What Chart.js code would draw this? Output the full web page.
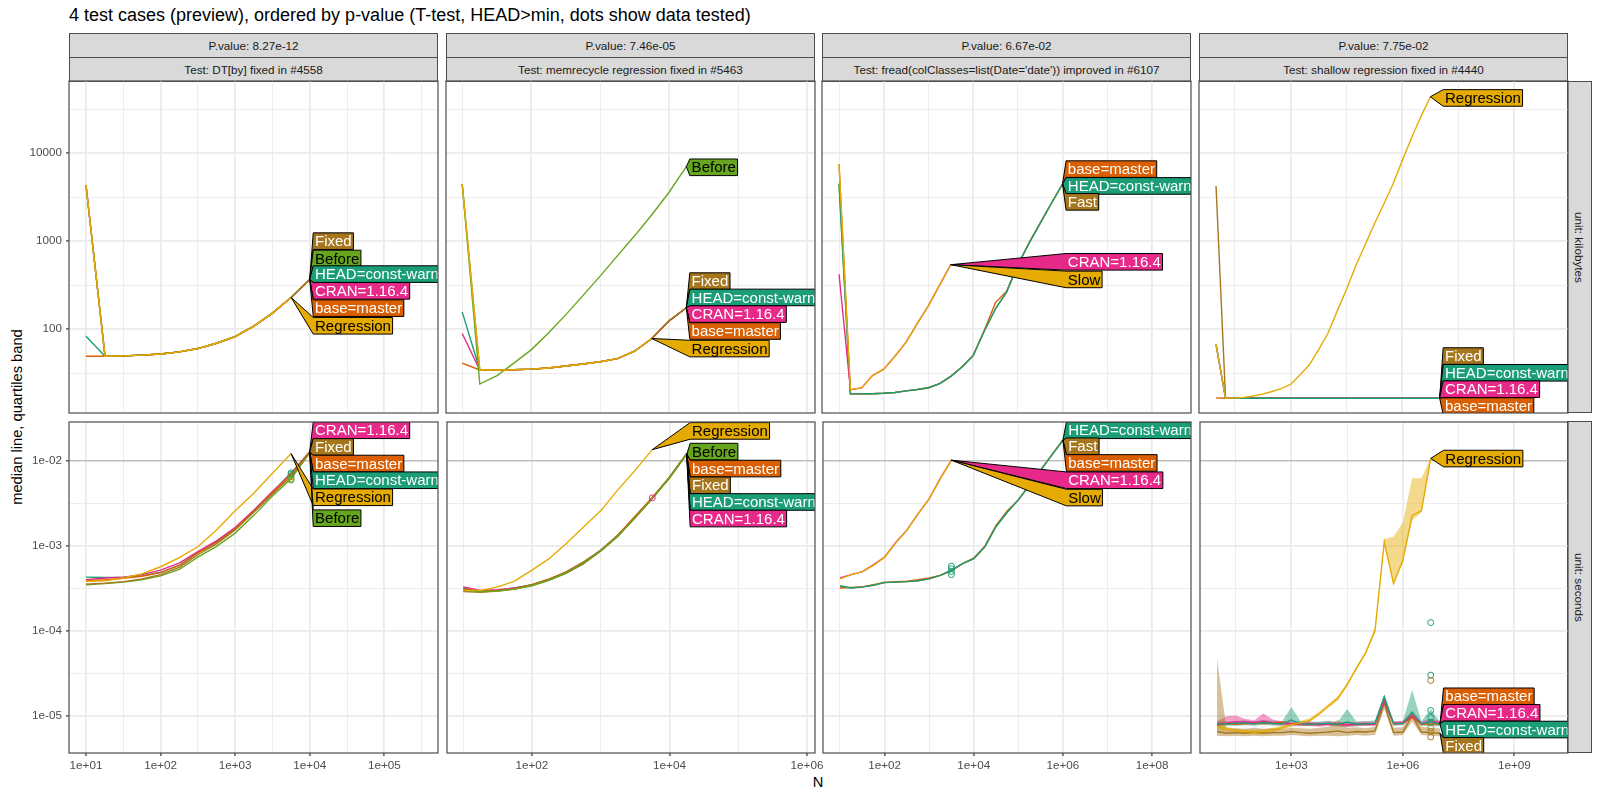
<!DOCTYPE html>
<html>
<head>
<meta charset="utf-8">
<script src="https://cdn.jsdelivr.net/npm/chart.js@4.4.1/dist/chart.umd.min.js"></script>
<style>
  body { margin: 0; background: #fff; }
  #wrap { position: relative; width: 1600px; height: 800px; overflow: hidden; font-family: "Liberation Sans", Arial, sans-serif; }
  #wrap canvas { position: absolute; }
  .strip { position: absolute; box-sizing: border-box; background: #d9d9d9; border: 1px solid #4d4d4d; color: #1a1a1a;
           font-size: 11.7px; display: flex; align-items: center; justify-content: center; white-space: nowrap; overflow: hidden; }
  .vstrip { writing-mode: vertical-rl; }
  #title { position: absolute; left: 69px; top: 5px; font-size: 18px; line-height: 20px; white-space: nowrap; }
  #ylab { position: absolute; left: 17px; top: 417px; transform: translate(-50%, -50%) rotate(-90deg); font-size: 14.7px; white-space: nowrap; }
  #xlab { position: absolute; left: 818px; top: 782px; transform: translate(-50%, -50%); font-size: 14.7px; }
</style>
</head>
<body>
<div id="wrap">
  <div id="title">4 test cases (preview), ordered by p-value (T-test, HEAD&gt;min, dots show data tested)</div>
  <div id="ylab">median line, quartiles band</div>
  <div id="xlab">N</div>
</div>
<script>
const wrap = document.querySelector('#wrap')

// facet text
const pValues = ['P.value: 8.27e-12', 'P.value: 7.46e-05', 'P.value: 6.67e-02', 'P.value: 7.75e-02']
const testTitles = ['Test: DT[by] fixed in #4558', 'Test: memrecycle regression fixed in #5463',
  "Test: fread(colClasses=list(Date='date')) improved in #6107", 'Test: shallow regression fixed in #4440']
const unitLabels = ['unit: kilobytes', 'unit: seconds']

// axes
const xLogLimits = [[0.772, 5.72], [0.765, 6.116], [0.619, 8.873], [0.543, 10.443]]
const yLogLimits = [[1.045, 4.822], [-5.441, -1.537]]
const xMajor = [[10, 100, 1000, 10000, 100000], [100, 10000, 1000000], [100, 10000, 1000000, 100000000], [1000, 1000000, 1000000000]]
const xMinor = [[10 ** 1.5, 10 ** 2.5, 10 ** 3.5, 10 ** 4.5, 10 ** 5.5], [10, 1000, 100000], [10, 1000, 100000, 10000000], [10 ** 1.5, 10 ** 4.5, 10 ** 7.5]]
const yMajor = [[100, 1000, 10000], [1e-5, 1e-4, 1e-3, 1e-2]]
const yMinor = [[10 ** 1.5, 10 ** 2.5, 10 ** 3.5, 10 ** 4.5], [10 ** -4.5, 10 ** -3.5, 10 ** -2.5]]
const timeLimit = 0.01

// N tested per test case
const nDTby = [10, 18, 32, 56, 100, 178, 316, 562, 1000, 1778, 3162, 5623, 10000]
const nMemrecycle = [10, 18, 32, 56, 100, 178, 316, 562, 1000, 1778, 3162, 5623, 10000, 17783]
const nFread = [10, 18, 32, 56, 100, 178, 316, 562, 1000, 1778, 3162, 5623, 10000, 17783, 31623, 56234, 100000, 177828, 316228, 562341, 1000000]
const nShallow = [10, 18, 32, 56, 100, 178, 316, 562, 1000, 1778, 3162, 5623, 10000, 17783, 31623, 56234, 100000, 177828, 316228, 562341, 1000000, 1778279, 3162278, 5623413, 10000000]
const testedN = [5623, 5623, 3162, 5623413]

// DT[by]
const dtbySeries = ['HEAD=const-warn', 'CRAN=1.16.4', 'base=master', 'Before', 'Fixed', 'Regression']
const dtbyKb = [
  [83, 49, 49.5, 50.5, 52, 55, 60, 69, 82, 108, 152, 229, 367],
  [4330, 49, 49.5, 50.5, 52, 55, 60, 69, 82, 108, 152, 229, 367],
  [49, 49, 49.5, 50.5, 52, 55, 60, 69, 82, 108, 152, 229, 367],
  [4330, 49, 49.5, 50.5, 52, 55, 60, 69, 82, 108, 152, 229, 367],
  [4330, 49, 49.5, 50.5, 52, 55, 60, 69, 82, 108, 152, 229, 367],
  [4330, 49, 49.5, 50.5, 52, 55, 60, 69, 82, 108, 152, 229, null]
]
const dtbySec = [
  [4.3e-4, 4.25e-4, 4.3e-4, 4.45e-4, 4.9e-4, 5.9e-4, 8.4e-4, 1.12e-3, 1.62e-3, 2.6e-3, 4.3e-3, 7.3e-3, 1.29e-2],
  [4.0e-4, 4.2e-4, 4.3e-4, 4.6e-4, 5.2e-4, 6.3e-4, 8.6e-4, 1.15e-3, 1.65e-3, 2.65e-3, 4.4e-3, 7.1e-3, 1.3e-2],
  [3.9e-4, 4.0e-4, 4.15e-4, 4.4e-4, 4.85e-4, 5.9e-4, 8.3e-4, 1.1e-3, 1.6e-3, 2.55e-3, 4.25e-3, 7.0e-3, 1.29e-2],
  [3.5e-4, 3.6e-4, 3.75e-4, 4.0e-4, 4.45e-4, 5.3e-4, 7.4e-4, 9.9e-4, 1.42e-3, 2.3e-3, 3.9e-3, 6.2e-3, 1.26e-2],
  [3.55e-4, 3.65e-4, 3.8e-4, 4.1e-4, 4.6e-4, 5.6e-4, 7.9e-4, 1.06e-3, 1.55e-3, 2.5e-3, 4.1e-3, 6.6e-3, 1.28e-2],
  [3.85e-4, 3.9e-4, 4.2e-4, 4.7e-4, 5.7e-4, 7.3e-4, 9.8e-4, 1.55e-3, 2.6e-3, 4.2e-3, 7.2e-3, 1.23e-2, null]
]
const dtbyKbLabels = ['Fixed', 'Before', 'HEAD=const-warn', 'CRAN=1.16.4', 'base=master', 'Regression']
const dtbyKbLabelY = [1000, 635, 422, 272, 173, 109]
const dtbySecLabels = ['CRAN=1.16.4', 'Fixed', 'base=master', 'HEAD=const-warn', 'Regression', 'Before']
const dtbySecLabelY = [0.0232, 0.01475, 0.0094, 0.00597, 0.00376, 0.00213]
const dtbyDotSeries = ['HEAD=const-warn', 'HEAD=const-warn', 'Fixed', 'Before', 'Before']
const dtbyDotY = [7.3e-3, 7.0e-3, 6.6e-3, 6.2e-3, 6.0e-3]

// memrecycle
const memSeries = ['HEAD=const-warn', 'CRAN=1.16.4', 'base=master', 'Fixed', 'Before', 'Regression']
const memKb = [
  [157, 34.2, 34.2, 34.4, 35, 36, 38, 40, 42.5, 46, 56, 78, 124, 175],
  [89, 34.2, 34.2, 34.4, 35, 36, 38, 40, 42.5, 46, 56, 78, 124, 175],
  [41, 34.2, 34.2, 34.4, 35, 36, 38, 40, 42.5, 46, 56, 78, 124, 175],
  [4470, 34.2, 34.2, 34.4, 35, 36, 38, 40, 42.5, 46, 56, 78, 124, 175],
  [4470, 23.7, 29.5, 41, 58, 90, 145, 240, 400, 680, 1150, 2000, 3600, 7050],
  [4470, 34.2, 34.2, 34.4, 35, 36, 38, 40, 42.5, 46, 56, 78, null, null]
]
const memSec = [
  [3.2e-4, 2.9e-4, 3.0e-4, 3.2e-4, 3.5e-4, 4.05e-4, 4.85e-4, 6.3e-4, 8.9e-4, 1.34e-3, 2.2e-3, 3.7e-3, 6.5e-3, 1.23e-2],
  [3.3e-4, 3.0e-4, 3.05e-4, 3.2e-4, 3.45e-4, 4.0e-4, 4.8e-4, 6.2e-4, 8.8e-4, 1.33e-3, 2.2e-3, 3.7e-3, 6.4e-3, 1.22e-2],
  [3.1e-4, 2.95e-4, 3.0e-4, 3.15e-4, 3.5e-4, 4.1e-4, 4.9e-4, 6.3e-4, 8.9e-4, 1.35e-3, 2.25e-3, 3.75e-3, 6.5e-3, 1.23e-2],
  [2.9e-4, 2.85e-4, 2.95e-4, 3.1e-4, 3.45e-4, 4.05e-4, 5.0e-4, 6.5e-4, 8.9e-4, 1.32e-3, 2.15e-3, 3.65e-3, 6.4e-3, 1.22e-2],
  [3.0e-4, 2.9e-4, 2.95e-4, 3.1e-4, 3.4e-4, 3.95e-4, 4.8e-4, 6.2e-4, 8.7e-4, 1.3e-3, 2.15e-3, 3.6e-3, 6.3e-3, 1.2e-2],
  [3.0e-4, 3.0e-4, 3.3e-4, 3.85e-4, 5.2e-4, 7.1e-4, 1.07e-3, 1.68e-3, 2.6e-3, 4.6e-3, 7.8e-3, 1.37e-2, null, null]
]
const memKbLabels = ['Before', 'Fixed', 'HEAD=const-warn', 'CRAN=1.16.4', 'base=master', 'Regression']
const memKbLabelY = [6920, 351, 229, 148, 95, 60]
const memSecLabels = ['Regression', 'Before', 'base=master', 'Fixed', 'HEAD=const-warn', 'CRAN=1.16.4']
const memSecLabelY = [0.0228, 0.013, 0.0082, 0.00521, 0.00331, 0.00211]
const memDotSeries = ['CRAN=1.16.4']
const memDotY = [3.7e-3]

// fread
const freadSeries = ['Fast', 'base=master', 'HEAD=const-warn', 'CRAN=1.16.4', 'Slow']
const freadKb = [
  [4500, 18.3, 18.3, 18.4, 18.6, 19, 19.8, 20.5, 21.5, 24, 29, 37, 50, 95, 170, 265, 535, 950, 1600, 2700, 4470],
  [7500, 18.3, 18.3, 18.4, 18.6, 19, 19.8, 20.5, 21.5, 24, 29, 37, 50, 97, 200, 270, 535, 950, 1600, 2700, 4470],
  [4500, 18.3, 18.3, 18.4, 18.6, 19, 19.8, 20.5, 21.5, 24, 29, 37, 50, 95, 170, 265, 535, 950, 1600, 2700, 4470],
  [420, 20.4, 21.4, 29.5, 35, 49, 71, 115, 185, 316, 540],
  [7500, 20.4, 21.4, 29.5, 35, 49, 71, 115, 185, 316, 540]
]
const freadSec = [
  [3.3e-4, 3.2e-4, 3.3e-4, 3.45e-4, 3.75e-4, 3.75e-4, 3.8e-4, 3.9e-4, 4.1e-4, 4.5e-4, 5.2e-4, 6.2e-4, 7.1e-4, 9.8e-4, 1.7e-3, 2.5e-3, 3.5e-3, 5.2e-3, 7.8e-3, 1.18e-2, 1.77e-2],
  [3.2e-4, 3.25e-4, 3.3e-4, 3.5e-4, 3.7e-4, 3.8e-4, 3.85e-4, 4.0e-4, 4.2e-4, 4.5e-4, 5.1e-4, 6.2e-4, 7.2e-4, 1.0e-3, 1.75e-3, 2.6e-3, 3.5e-3, 5.3e-3, 7.9e-3, 1.19e-2, 1.78e-2],
  [3.4e-4, 3.2e-4, 3.3e-4, 3.45e-4, 3.7e-4, 3.75e-4, 3.8e-4, 3.9e-4, 4.1e-4, 4.5e-4, 5.2e-4, 6.2e-4, 7.1e-4, 9.8e-4, 1.7e-3, 2.5e-3, 3.5e-3, 5.2e-3, 7.8e-3, 1.18e-2, 1.77e-2],
  [4.2e-4, 4.6e-4, 5.0e-4, 6.0e-4, 7.4e-4, 1.1e-3, 1.54e-3, 2.4e-3, 3.6e-3, 6.3e-3, 1.03e-2],
  [4.1e-4, 4.6e-4, 5.0e-4, 5.9e-4, 7.4e-4, 1.09e-3, 1.53e-3, 2.4e-3, 3.6e-3, 6.2e-3, 1.03e-2]
]
const freadKbLabels = ['base=master', 'HEAD=const-warn', 'Fast', 'CRAN=1.16.4', 'Slow']
const freadKbLabelY = [6600, 4250, 2800, 582, 367]
const freadSecLabels = ['HEAD=const-warn', 'Fast', 'base=master', 'CRAN=1.16.4', 'Slow']
const freadSecLabelY = [0.0232, 0.01503, 0.00955, 0.00597, 0.00373]
const freadDotSeries = ['HEAD=const-warn', 'HEAD=const-warn', 'HEAD=const-warn', 'HEAD=const-warn']
const freadDotY = [5.8e-4, 5.4e-4, 5.0e-4, 4.6e-4]

// shallow
const shallowSeries = ['Fixed', 'base=master', 'CRAN=1.16.4', 'HEAD=const-warn', 'Regression']
const shallowKb = [
  [4240, 16.3, 16.3, 16.3, 16.3, 16.3, 16.3, 16.3, 16.3, 16.3, 16.3, 16.3, 16.3, 16.3, 16.3, 16.3, 16.3, 16.3, 16.3, 16.3, 16.3, 16.3, 16.3, 16.3, 16.3],
  [16.5, 16.3, 16.3, 16.3, 16.3, 16.3, 16.3, 16.3, 16.3, 16.3, 16.3, 16.3, 16.3, 16.3, 16.3, 16.3, 16.3, 16.3, 16.3, 16.3, 16.3, 16.3, 16.3, 16.3, 16.3],
  [67, 16.3, 16.3, 16.3, 16.3, 16.3, 16.3, 16.3, 16.3, 16.3, 16.3, 16.3, 16.3, 16.3, 16.3, 16.3, 16.3, 16.3, 16.3, 16.3, 16.3, 16.3, 16.3, 16.3, 16.3],
  [67, 16.3, 16.3, 16.3, 16.3, 16.3, 16.3, 16.3, 16.3, 16.3, 16.3, 16.3, 16.3, 16.3, 16.3, 16.3, 16.3, 16.3, 16.3, 16.3, 16.3, 16.3, 16.3, 16.3, 16.3],
  [67, 16.3, 16.4, 16.7, 17.3, 18.2, 19.5, 21, 23.4, 30, 39, 58, 89, 160, 282, 525, 910, 1580, 2630, 4500, 8300, 15100, 26300, 43900]
]
const shallowSec = [
  [6.5e-6, 6.2e-6, 6.3e-6, 6.2e-6, 6.4e-6, 6.2e-6, 6.3e-6, 6.3e-6, 6.5e-6, 6.3e-6, 6.2e-6, 6.3e-6, 6.4e-6, 6.6e-6, 6.3e-6, 6.5e-6, 6.4e-6, 6.6e-6, 1.4e-5, 6.3e-6, 6.4e-6, 1.0e-5, 6.4e-6, 6.3e-6, 6.2e-6],
  [7.8e-6, 8.0e-6, 7.9e-6, 8.0e-6, 8.1e-6, 8.0e-6, 8.2e-6, 8.4e-6, 8.0e-6, 7.9e-6, 7.8e-6, 7.9e-6, 8.0e-6, 7.9e-6, 7.8e-6, 7.9e-6, 8.0e-6, 7.9e-6, 1.55e-5, 8.0e-6, 8.1e-6, 9.5e-6, 7.9e-6, 8.0e-6, 7.9e-6],
  [8.0e-6, 8.2e-6, 8.5e-6, 8.4e-6, 8.3e-6, 8.6e-6, 8.2e-6, 8.1e-6, 8.0e-6, 7.9e-6, 8.0e-6, 7.8e-6, 8.0e-6, 7.9e-6, 7.8e-6, 7.9e-6, 8.0e-6, 7.9e-6, 1.5e-5, 8.1e-6, 8.2e-6, 1.0e-5, 8.0e-6, 8.6e-6, 8.2e-6],
  [8.0e-6, 8.0e-6, 8.1e-6, 8.2e-6, 8.0e-6, 8.3e-6, 8.1e-6, 8.0e-6, 8.9e-6, 8.0e-6, 7.9e-6, 8.0e-6, 8.1e-6, 7.9e-6, 8.4e-6, 7.9e-6, 8.0e-6, 8.1e-6, 1.66e-5, 8.0e-6, 8.1e-6, 1.1e-5, 8.0e-6, 8.5e-6, 7.9e-6],
  [7.4e-6, 7.0e-6, 6.7e-6, 6.5e-6, 6.4e-6, 6.5e-6, 6.8e-6, 7.2e-6, 7.8e-6, 8.2e-6, 8.8e-6, 1.05e-5, 1.3e-5, 1.6e-5, 2.3e-5, 3.6e-5, 5.5e-5, 1.0e-4, 1.12e-3, 3.6e-4, 6.8e-4, 2.3e-3, 2.6e-3, 1.08e-2]
]
const shallowBandSeries = ['Fixed', 'CRAN=1.16.4', 'HEAD=const-warn', 'Regression']
const shallowBandLo = [
  [5.8e-6, 5.7e-6, 5.8e-6, 5.7e-6, 5.8e-6, 5.7e-6, 5.8e-6, 5.8e-6, 5.9e-6, 5.8e-6, 5.7e-6, 5.8e-6, 5.8e-6, 5.7e-6, 5.8e-6, 5.9e-6, 5.8e-6, 5.9e-6, 1.2e-5, 5.8e-6, 5.9e-6, 8.5e-6, 5.9e-6, 5.8e-6, 5.7e-6],
  [7.6e-6, 7.8e-6, 8.0e-6, 7.9e-6, 7.8e-6, 8.1e-6, 7.8e-6, 7.7e-6, 7.6e-6, 7.5e-6, 7.6e-6, 7.4e-6, 7.6e-6, 7.5e-6, 7.4e-6, 7.5e-6, 7.6e-6, 7.5e-6, 1.4e-5, 7.7e-6, 7.8e-6, 9.4e-6, 7.6e-6, 8.0e-6, 7.8e-6],
  [7.5e-6, 7.6e-6, 7.6e-6, 7.7e-6, 7.6e-6, 7.8e-6, 7.6e-6, 7.6e-6, 7.9e-6, 7.6e-6, 7.5e-6, 7.6e-6, 7.7e-6, 7.5e-6, 7.4e-6, 7.5e-6, 7.6e-6, 7.7e-6, 1.5e-5, 7.6e-6, 7.7e-6, 9.5e-6, 7.6e-6, 7.5e-6, 7.5e-6],
  [6.8e-6, 6.5e-6, 6.3e-6, 6.1e-6, 6.0e-6, 6.1e-6, 6.4e-6, 6.8e-6, 7.4e-6, 7.8e-6, 8.4e-6, 1.0e-5, 1.25e-5, 1.5e-5, 2.2e-5, 3.5e-5, 5.3e-5, 9.5e-5, 1.05e-3, 3.5e-4, 6.5e-4, 2.0e-3, 2.5e-3, 1.05e-2]
]
const shallowBandHi = [
  [4.7e-5, 7.0e-6, 7.1e-6, 7.0e-6, 7.2e-6, 7.0e-6, 7.1e-6, 7.0e-6, 7.2e-6, 7.1e-6, 7.0e-6, 7.2e-6, 7.4e-6, 9.0e-6, 7.2e-6, 7.3e-6, 7.1e-6, 7.4e-6, 1.6e-5, 7.2e-6, 7.3e-6, 1.1e-5, 7.4e-6, 7.2e-6, 7.1e-6],
  [8.6e-6, 9.8e-6, 1.0e-5, 9.2e-6, 8.8e-6, 1.06e-5, 9.0e-6, 8.6e-6, 8.5e-6, 8.4e-6, 8.5e-6, 8.3e-6, 8.5e-6, 8.4e-6, 8.3e-6, 8.4e-6, 8.5e-6, 8.4e-6, 1.6e-5, 8.6e-6, 8.7e-6, 1.1e-5, 8.5e-6, 9.2e-6, 8.7e-6],
  [8.6e-6, 8.5e-6, 8.6e-6, 8.8e-6, 8.5e-6, 8.9e-6, 8.7e-6, 8.5e-6, 1.26e-5, 8.6e-6, 8.4e-6, 8.5e-6, 8.7e-6, 8.4e-6, 1.2e-5, 8.5e-6, 8.6e-6, 8.8e-6, 1.8e-5, 8.5e-6, 8.6e-6, 2.0e-5, 8.6e-6, 1.2e-5, 8.4e-6],
  [7.8e-6, 7.4e-6, 7.0e-6, 6.9e-6, 6.8e-6, 6.9e-6, 7.2e-6, 7.7e-6, 8.2e-6, 8.7e-6, 9.4e-6, 1.12e-5, 1.38e-5, 1.7e-5, 2.45e-5, 3.8e-5, 5.8e-5, 1.1e-4, 1.2e-3, 1.3e-3, 1.9e-3, 6.3e-3, 6.3e-3, 1.1e-2]
]
const shallowKbLabels = ['Regression', 'Fixed', 'HEAD=const-warn', 'CRAN=1.16.4', 'base=master']
const shallowKbLabelY = [42600, 49.3, 31.8, 20.7, 13.3]
const shallowSecLabels = ['Regression', 'base=master', 'CRAN=1.16.4', 'HEAD=const-warn', 'Fixed']
const shallowSecLabelY = [0.01076, 1.69e-5, 1.08e-5, 6.85e-6, 4.4e-6]
const shallowDotSeries = ['HEAD=const-warn', 'HEAD=const-warn', 'Fixed', 'HEAD=const-warn', 'HEAD=const-warn', 'HEAD=const-warn', 'Fixed', 'Fixed', 'Fixed']
const shallowDotY = [1.25e-4, 3.0e-5, 2.6e-5, 1.15e-5, 9.5e-6, 8.3e-6, 7.2e-6, 6.5e-6, 5.6e-6]

// styling
const seriesColour = {
  'HEAD=const-warn': '#1B9E77', 'CRAN=1.16.4': '#E7298A', 'base=master': '#D95F02',
  'Fixed': '#A6761D', 'Fast': '#A6761D', 'Before': '#66A61E', 'Regression': '#E6AB02', 'Slow': '#E6AB02'
}
const blackText = ['Before', 'Regression', 'Slow']
const panelLeft = [69, 446, 822, 1199]
const panelWidth = 369
const panelTop = [81, 421]
const panelHeight = 332

Chart.defaults.font.family = '"Liberation Sans", Arial, sans-serif'

function alpha(hex, a) {
  const n = parseInt(hex.slice(1), 16)
  return 'rgba(' + (n >> 16) + ',' + ((n >> 8) & 255) + ',' + (n & 255) + ',' + a + ')'
}

function expLabel(v) {
  const e = Math.round(Math.log10(v))
  const d = Math.abs(e) < 10 ? '0' + Math.abs(e) : String(Math.abs(e))
  return '1e' + (e < 0 ? '-' : '+') + d
}

function points(n, vals) {
  const pts = []
  vals.forEach((v, i) => { if (v !== null) pts.push({ x: n[i], y: v }) })
  return pts
}

// strips
function addStrip(text, left, top, w, h, vertical) {
  const d = document.createElement('div')
  d.className = 'strip' + (vertical ? ' vstrip' : '')
  d.style.left = left + 'px'; d.style.top = top + 'px'
  d.style.width = w + 'px'; d.style.height = h + 'px'
  d.textContent = text
  wrap.appendChild(d)
}
for (let c = 0; c < 4; c++) {
  addStrip(pValues[c], panelLeft[c], 33, panelWidth, 25)
  addStrip(testTitles[c], panelLeft[c], 57, panelWidth, 25)
}
addStrip(unitLabels[0], 1567, panelTop[0], 25, panelHeight, true)
addStrip(unitLabels[1], 1567, panelTop[1], 25, panelHeight, true)

// direct labels (polygon boxes pointing at the last point of each line)
function directLabels(names, ys) {
  return {
    id: 'directLabels',
    afterDatasetsDraw(chart) {
      const ctx = chart.ctx, a = chart.chartArea
      const xs = chart.scales.x, yS = chart.scales.y
      const tips = names.map(nm => {
        const ds = chart.data.datasets.find(d => d.seriesName === nm && d.role === 'line')
        const last = ds.data[ds.data.length - 1]
        return [xs.getPixelForValue(last.x), yS.getPixelForValue(last.y)]
      })
      const boxLeft = Math.max(...tips.map(t => t[0])) + 3.5
      ctx.save()
      ctx.beginPath()
      ctx.rect(a.left, a.top, a.right - a.left, a.bottom - a.top)
      ctx.clip()
      ctx.font = '15px "Liberation Sans", Arial, sans-serif'
      ctx.textBaseline = 'middle'
      names.forEach((nm, i) => {
        const cy = yS.getPixelForValue(ys[i])
        const w = ctx.measureText(nm).width + 3.5
        const top = cy - 8.3, bot = cy + 8.3, right = boxLeft + w
        ctx.beginPath()
        ctx.moveTo(tips[i][0], tips[i][1])
        ctx.lineTo(boxLeft, top)
        ctx.lineTo(right, top)
        ctx.lineTo(right, bot)
        ctx.lineTo(boxLeft, bot)
        ctx.closePath()
        ctx.fillStyle = seriesColour[nm]
        ctx.fill()
        ctx.strokeStyle = '#000'
        ctx.lineWidth = 1
        ctx.stroke()
        ctx.fillStyle = blackText.includes(nm) ? '#000' : '#fff'
        ctx.fillText(nm, boxLeft + 1.8, cy + 1)
      })
      ctx.restore()
    }
  }
}

const panelBorder = {
  id: 'panelBorder',
  afterDraw(chart) {
    const a = chart.chartArea, c = chart.ctx
    c.save()
    c.strokeStyle = '#4d4d4d'
    c.lineWidth = 1.2
    c.strokeRect(a.left, a.top, a.right - a.left, a.bottom - a.top)
    c.restore()
  }
}

function gridOptions(majors, isSecondsY) {
  return {
    color: c => (isSecondsY && c.tick && c.tick.value === timeLimit) ? '#BEBEBE' : '#EBEBEB',
    lineWidth: c => {
      if (!c.tick) return 1
      if (isSecondsY && c.tick.value === timeLimit) return 1.6
      return majors.includes(c.tick.value) ? 1.8 : 0.9
    },
    tickColor: c => (c.tick && majors.includes(c.tick.value)) ? '#333333' : 'rgba(0,0,0,0)',
    tickWidth: 1.2,
    tickLength: 3
  }
}

function makePanel(p) {
  const col = p.col, row = p.row, isSec = row === 1
  const EL = col === 0 ? 69 : 4, ET = 4, EB = isSec ? 44 : 4, ER = isSec ? 26 : 4
  const cv = document.createElement('canvas')
  cv.width = EL + panelWidth + ER
  cv.height = ET + panelHeight + EB
  cv.style.left = (panelLeft[col] - EL) + 'px'
  cv.style.top = (panelTop[row] - ET) + 'px'
  wrap.appendChild(cv)

  const datasets = []
  if (p.bandNames) {
    p.bandNames.forEach((nm, i) => {
      datasets.push({ role: 'band', data: points(p.n, p.bandLo[i]), borderWidth: 0, pointRadius: 0, fill: false, order: 200 })
      datasets.push({ role: 'band', data: points(p.n, p.bandHi[i]), borderWidth: 0, pointRadius: 0, fill: '-1',
        backgroundColor: alpha(seriesColour[nm], 0.45), order: 200 })
    })
  }
  p.names.forEach((nm, i) => {
    datasets.push({ role: 'line', seriesName: nm, data: points(p.n, p.values[i]), borderColor: seriesColour[nm],
      borderWidth: 1.4, pointRadius: 0, fill: false, tension: 0, order: 100 - i })
  })
  if (p.dotNames) {
    datasets.push({ role: 'dots', data: p.dotY.map(y => ({ x: testedN[col], y: y })), showLine: false,
      pointRadius: 3, pointBorderWidth: 1, pointBackgroundColor: 'rgba(0,0,0,0)',
      pointBorderColor: p.dotNames.map(nm => seriesColour[nm]), order: -10 })
  }

  const xMin = 10 ** xLogLimits[col][0], xMax = 10 ** xLogLimits[col][1]
  const yMin = 10 ** yLogLimits[row][0], yMax = 10 ** yLogLimits[row][1]

  new Chart(cv, {
    type: 'line',
    data: { datasets: datasets },
    options: {
      responsive: false,
      animation: false,
      events: [],
      layout: { padding: { left: 0, top: ET, right: ER, bottom: 0 } },
      plugins: { legend: { display: false }, tooltip: { enabled: false } },
      scales: {
        x: {
          type: 'logarithmic', min: xMin, max: xMax, bounds: 'data',
          afterBuildTicks: s => {
            s.ticks = xMajor[col].concat(xMinor[col]).filter(v => v >= xMin && v <= xMax).sort((a, b) => a - b).map(v => ({ value: v }))
          },
          afterFit: s => { s.height = EB; s.paddingLeft = 0; s.paddingRight = 0; s.paddingTop = 0; s.paddingBottom = 0 },
          ticks: { display: isSec, autoSkip: false, maxRotation: 0, padding: 3, color: '#4d4d4d', font: { size: 11.7 },
            callback: v => xMajor[col].includes(v) ? expLabel(v) : '' },
          grid: Object.assign(gridOptions(xMajor[col], false), { drawTicks: isSec }),
          border: { display: false }
        },
        y: {
          type: 'logarithmic', min: yMin, max: yMax, bounds: 'data',
          afterBuildTicks: s => {
            s.ticks = yMajor[row].concat(yMinor[row]).filter(v => v >= yMin && v <= yMax).sort((a, b) => a - b).map(v => ({ value: v }))
          },
          afterFit: s => { s.width = EL; s.paddingLeft = 0; s.paddingRight = 0; s.paddingTop = 0; s.paddingBottom = 0 },
          ticks: { display: col === 0, autoSkip: false, padding: 4, color: '#4d4d4d', font: { size: 11.7 },
            callback: v => yMajor[row].includes(v) ? (isSec ? expLabel(v) : String(v)) : '' },
          grid: Object.assign(gridOptions(yMajor[row], isSec), { drawTicks: col === 0 }),
          border: { display: false }
        }
      }
    },
    plugins: [directLabels(p.labels, p.labelY), panelBorder]
  })
}

const panelDefs = [
  { col: 0, row: 0, n: nDTby, names: dtbySeries, values: dtbyKb, labels: dtbyKbLabels, labelY: dtbyKbLabelY },
  { col: 0, row: 1, n: nDTby, names: dtbySeries, values: dtbySec, labels: dtbySecLabels, labelY: dtbySecLabelY, dotNames: dtbyDotSeries, dotY: dtbyDotY },
  { col: 1, row: 0, n: nMemrecycle, names: memSeries, values: memKb, labels: memKbLabels, labelY: memKbLabelY },
  { col: 1, row: 1, n: nMemrecycle, names: memSeries, values: memSec, labels: memSecLabels, labelY: memSecLabelY, dotNames: memDotSeries, dotY: memDotY },
  { col: 2, row: 0, n: nFread, names: freadSeries, values: freadKb, labels: freadKbLabels, labelY: freadKbLabelY },
  { col: 2, row: 1, n: nFread, names: freadSeries, values: freadSec, labels: freadSecLabels, labelY: freadSecLabelY, dotNames: freadDotSeries, dotY: freadDotY },
  { col: 3, row: 0, n: nShallow, names: shallowSeries, values: shallowKb, labels: shallowKbLabels, labelY: shallowKbLabelY },
  { col: 3, row: 1, n: nShallow, names: shallowSeries, values: shallowSec, labels: shallowSecLabels, labelY: shallowSecLabelY,
    dotNames: shallowDotSeries, dotY: shallowDotY, bandNames: shallowBandSeries, bandLo: shallowBandLo, bandHi: shallowBandHi }
]

panelDefs.forEach(makePanel)
</script>
</body>
</html>
